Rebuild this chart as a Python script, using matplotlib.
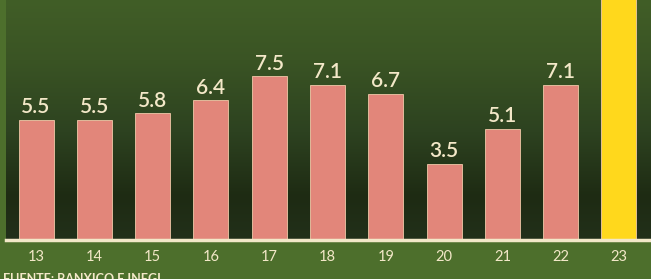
import numpy as np
import matplotlib.pyplot as plt
from matplotlib.colors import LinearSegmentedColormap

# datos (años y valores)
years = ["13", "14", "15", "16", "17", "18", "19", "20", "21", "22", "23"]
values = [5.5, 5.5, 5.8, 6.4, 7.5, 7.1, 6.7, 3.5, 5.1, 7.1, 12.0]
labels = ["5.5", "5.5", "5.8", "6.4", "7.5", "7.1", "6.7", "3.5", "5.1", "7.1", ""]
bar_colors = ["#e2867a"] * 10 + ["#ffd81c"]

cream = "#f3e8c8"

fig = plt.figure(figsize=(6.51, 2.79), dpi=100)
fig.patch.set_facecolor("#4d6f2c")

ax = fig.add_axes([6 / 651, 39 / 279, 645 / 651, 240 / 279])
ax.set_xlim(-0.515, 10.55)
ax.set_ylim(0, 11.0)

# fondo degradado del panel
grad = LinearSegmentedColormap.from_list(
    "bg", [(0, "#22301a"), (0.18, "#1e2b13"), (0.45, "#2d4220"),
           (0.75, "#3a5424"), (1, "#415e27")])
g = np.linspace(0, 1, 256).reshape(-1, 1)
ax.imshow(g, cmap=grad, aspect="auto", origin="lower",
          extent=[-0.515, 10.55, 0, 11.0], zorder=0)

x = np.arange(len(years))
bars = ax.bar(x, values, width=0.6, color=bar_colors, edgecolor="#f0c9a8",
              linewidth=0.6, zorder=2)

for xi, v, lab in zip(x, values, labels):
    if lab:
        ax.text(xi, v + 0.12, lab, ha="center", va="bottom", color=cream,
                fontsize=15, fontweight="semibold", fontfamily="Lato", zorder=3)

for s in ["top", "right", "left"]:
    ax.spines[s].set_visible(False)
ax.spines["bottom"].set_color(cream)
ax.spines["bottom"].set_linewidth(2.5)
ax.spines["bottom"].set_zorder(4)
ax.set_yticks([])
ax.set_xticks(x)
ax.set_xticklabels(years, color=cream, fontsize=10.5, fontfamily="Lato")
ax.tick_params(axis="x", length=0, pad=7)

fig.text(0.004, 0.022, "FUENTE: BANXICO E INEGI", color=cream, fontsize=9,
         fontweight="bold", fontfamily="Lato", va="top", ha="left")

fig.savefig("out.png", dpi=100)
